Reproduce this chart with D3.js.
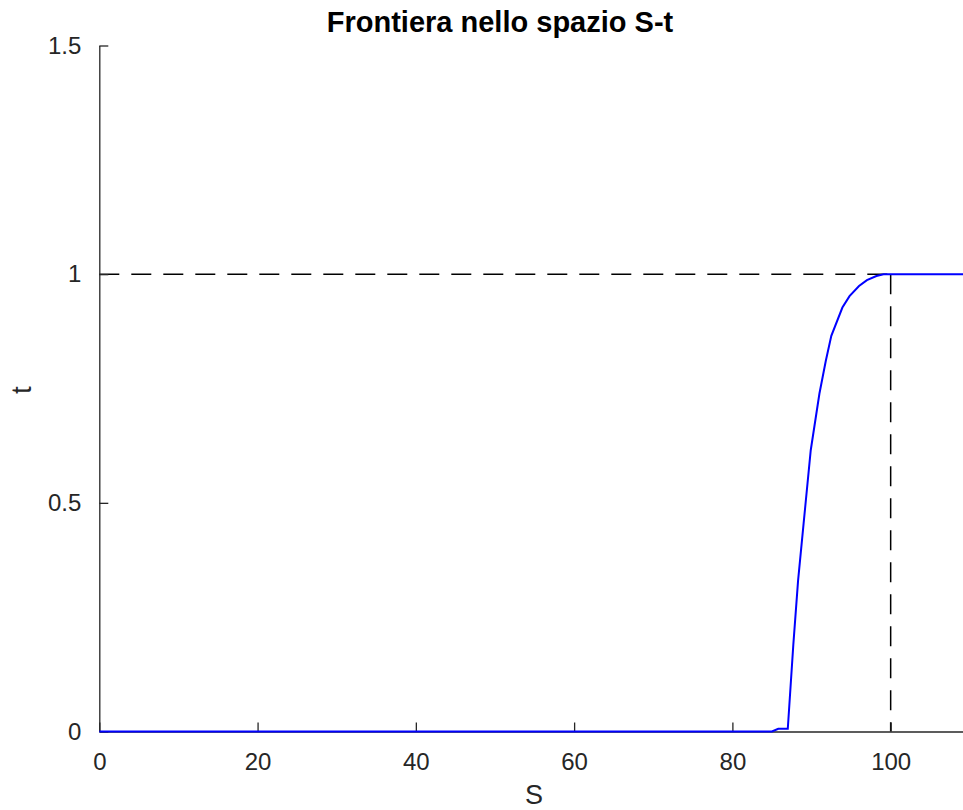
<!DOCTYPE html>
<html><head><meta charset="utf-8">
<script src="https://cdnjs.cloudflare.com/ajax/libs/d3/7.8.5/d3.min.js"></script>
<style>
body{margin:0;background:#fff;}
svg{display:block;font-family:"Liberation Sans",Arial,Helvetica,sans-serif;}
</style></head>
<body>
<svg id="chart" width="963" height="810"></svg>
<script>
// Data
const S = [0, 85.0, 85.8, 87.0, 87.7, 88.3, 89.0, 89.9, 91.0, 91.8, 92.5, 93.9, 94.8, 96.0, 97.0, 98.2, 99.1, 110];
const T = [0, 0, 0.006, 0.006, 0.19, 0.33, 0.455, 0.615, 0.739, 0.81, 0.865, 0.927, 0.952, 0.974, 0.987, 0.996, 1, 1];
const xTicks = [0, 20, 40, 60, 80, 100];
const yTicks = [0, 0.5, 1, 1.5];
const refHLine = {t: 1, s0: 0, s1: 100};
const refVLine = {s: 100, t0: 0, t1: 1};
const title = "Frontiera nello spazio S-t";
const xLabel = "S";
const yLabel = "t";

const svg = d3.select("#chart");
const x = d3.scaleLinear().domain([0, 110]).range([99.3, 969.8]);
const y = d3.scaleLinear().domain([0, 1.5]).range([731.5, 45.5]);
const axisColor = "#262626";

// reference dashed lines
svg.append("line")
  .attr("x1", x(refHLine.s0)).attr("x2", x(refHLine.s1))
  .attr("y1", y(refHLine.t)).attr("y2", y(refHLine.t))
  .attr("stroke", "#000").attr("stroke-width", 1.5).attr("stroke-dasharray", "20,12");
svg.append("line")
  .attr("x1", x(refVLine.s)).attr("x2", x(refVLine.s))
  .attr("y1", y(refVLine.t1)).attr("y2", y(refVLine.t0))
  .attr("stroke", "#000").attr("stroke-width", 1.5).attr("stroke-dasharray", "20,12");

// axes
const xAxis = d3.axisBottom(x).tickValues(xTicks).tickSizeInner(-9).tickSizeOuter(0).tickPadding(21);
const yAxis = d3.axisLeft(y).tickValues(yTicks).tickFormat(d => d === 0 ? "0" : d === 1 ? "1" : d3.format(".1f")(d)).tickSizeInner(-9).tickSizeOuter(0).tickPadding(18);

const gx = svg.append("g").attr("transform", `translate(0,${y(0)})`).call(xAxis);
const gy = svg.append("g").attr("transform", `translate(${x(0)},0)`).call(yAxis);
[gx, gy].forEach(g => {
  g.select(".domain").attr("stroke", axisColor).attr("stroke-width", 1.3);
  g.selectAll(".tick line").attr("stroke", axisColor).attr("stroke-width", 1.3);
  g.selectAll(".tick text").attr("fill", axisColor).attr("font-size", 24).attr("font-family", "Liberation Sans, Arial, sans-serif");
});

// data line
const line = d3.line().x((d, i) => x(S[i])).y((d, i) => y(T[i]));
svg.append("path").datum(S).attr("d", line)
  .attr("fill", "none").attr("stroke", "#0000ff").attr("stroke-width", 2);

// title and labels
svg.append("text").attr("x", 500).attr("y", 32).attr("text-anchor", "middle")
  .attr("font-size", 29).attr("font-weight", "bold").attr("fill", "#000").text(title);
svg.append("text").attr("x", 534).attr("y", 804).attr("text-anchor", "middle")
  .attr("font-size", 27).attr("fill", axisColor).text(xLabel);
svg.append("text").attr("transform", "translate(31,390) rotate(-90)").attr("text-anchor", "middle")
  .attr("font-size", 28).attr("fill", axisColor).text(yLabel);
</script>
</body></html>
